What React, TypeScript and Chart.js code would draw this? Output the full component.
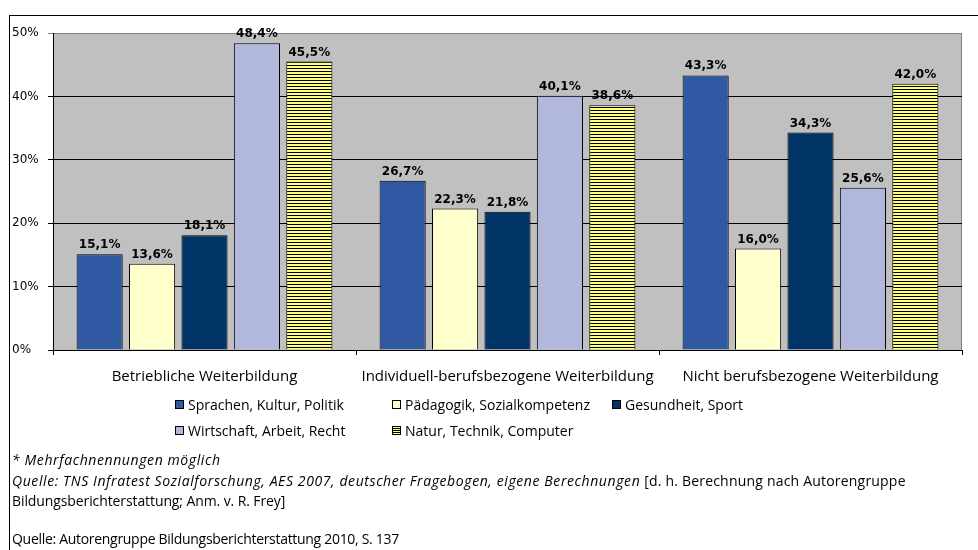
import React, { useEffect, useRef } from "react";
import { Chart, registerables } from "chart.js";

Chart.register(...registerables);

const categories = [
  "Betriebliche Weiterbildung",
  "Individuell-berufsbezogene Weiterbildung",
  "Nicht berufsbezogene Weiterbildung",
];
const seriesNames = [
  "Sprachen, Kultur, Politik",
  "Pädagogik, Sozialkompetenz",
  "Gesundheit, Sport",
  "Wirtschaft, Arbeit, Recht",
  "Natur, Technik, Computer",
];
const sprachen = [15.1, 26.7, 43.3];
const paedagogik = [13.6, 22.3, 16.0];
const gesundheit = [18.1, 21.8, 34.3];
const wirtschaft = [48.4, 40.1, 25.6];
const natur = [45.5, 38.6, 42.0];
const yMax = 50;
const yStep = 10;

const colors = ["#2F5AA3", "#FFFFCC", "#003366", "#B2B8DB", "#FFFF80"];
const TEXT_FONT = "'Open Sans', Lato, sans-serif";

function makeStripePattern(ctx: CanvasRenderingContext2D) {
  const c = document.createElement("canvas");
  c.width = 4;
  c.height = 3;
  const p = c.getContext("2d")!;
  p.fillStyle = "#FFFF80";
  p.fillRect(0, 0, 4, 3);
  p.fillStyle = "#000000";
  p.fillRect(0, 2, 4, 1);
  return ctx.createPattern(c, "repeat")!;
}

const fmt = (v: number) => v.toFixed(1).replace(".", ",") + "%";

export default function App() {
  const ref = useRef<HTMLCanvasElement | null>(null);

  useEffect(() => {
    const canvas = ref.current!;
    const ctx = canvas.getContext("2d")!;
    const stripes = makeStripePattern(ctx);
    const values = [sprachen, paedagogik, gesundheit, wirtschaft, natur];

    const plotBg = {
      id: "plotBg",
      beforeDraw(chart: any) {
        const { ctx, chartArea: a } = chart;
        ctx.save();
        ctx.fillStyle = "#C0C0C0";
        ctx.fillRect(a.left, a.top, a.right - a.left, a.bottom - a.top);
        ctx.strokeStyle = "#808080";
        ctx.lineWidth = 1;
        ctx.strokeRect(a.left + 0.5, a.top + 0.5, a.right - a.left - 1, a.bottom - a.top);
        ctx.restore();
      },
    };

    const valueLabels = {
      id: "valueLabels",
      afterDatasetsDraw(chart: any) {
        const { ctx } = chart;
        ctx.save();
        ctx.font = "bold 12px 'DejaVu Sans', Verdana, sans-serif";
        ctx.fillStyle = "#000";
        ctx.textAlign = "center";
        ctx.textBaseline = "alphabetic";
        chart.data.datasets.forEach((ds: any, i: number) => {
          const meta = chart.getDatasetMeta(i);
          meta.data.forEach((bar: any, j: number) => {
            ctx.fillText(fmt(ds.data[j]), bar.x, bar.y - 6);
          });
        });
        ctx.restore();
      },
    };

    const chart = new Chart(ctx, {
      type: "bar",
      data: {
        labels: categories,
        datasets: seriesNames.map((name, i) => ({
          label: name,
          data: values[i],
          backgroundColor: i === 4 ? (stripes as any) : colors[i],
          borderColor: "#000",
          borderWidth: 1,
          categoryPercentage: 0.865,
          barPercentage: 0.88,
        })),
      },
      options: {
        responsive: false,
        animation: false,
        events: [],
        layout: { padding: { left: 12, top: 33, right: 16, bottom: 160 } },
        plugins: {
          legend: { display: false },
          tooltip: { enabled: false },
          title: { display: false },
        },
        scales: {
          x: {
            afterFit: (s: any) => {
              s.height = 40;
            },
            grid: {
              drawOnChartArea: false,
              drawTicks: true,
              tickLength: 5,
              color: "#000",
              offset: true,
            },
            border: { display: true, color: "#000", width: 1 },
            ticks: {
              color: "#000",
              padding: 13,
              maxRotation: 0,
              autoSkip: false,
              font: { family: TEXT_FONT, size: 15 },
            },
          },
          y: {
            min: 0,
            max: yMax,
            afterFit: (s: any) => {
              s.width = 41;
            },
            grid: {
              color: (c: any) => (c.tick && c.tick.value === yMax ? "#808080" : "#000"),
              tickLength: 5,
              drawTicks: true,
            },
            border: { display: true, color: "#000", width: 1 },
            ticks: {
              stepSize: yStep,
              crossAlign: "far",
              padding: 4,
              color: "#000",
              font: { family: "'DejaVu Sans', Verdana, sans-serif", size: 12 },
              callback: (v: any) => v + "%",
            },
          },
        },
      },
      plugins: [plotBg, valueLabels],
    });
    return () => chart.destroy();
  }, []);

  const legendItem = (i: number, left: number, top: number) => (
    <div
      key={i}
      style={{
        position: "absolute",
        left,
        top,
        display: "flex",
        alignItems: "center",
        whiteSpace: "nowrap",
        height: 20,
        letterSpacing: "0px",
      }}
    >
      <span
        style={{
          display: "inline-block",
          width: 7,
          height: 7,
          border: "1px solid #000",
          background: i === 4 ? "repeating-linear-gradient(#FFFF80 0px, #FFFF80 1px, #000 1px, #000 2px)" : colors[i],
          marginRight: 4,
        }}
      />
      <span>{seriesNames[i]}</span>
    </div>
  );

  return (
    <div
      style={{
        position: "absolute",
        left: 0,
        top: 0,
        width: 978,
        height: 550,
        overflow: "hidden",
        background: "#fff",
        fontFamily: TEXT_FONT,
        fontSize: 14,
        color: "#000",
      }}
    >
      <div
        style={{
          position: "absolute",
          left: 9,
          top: 15,
          width: 1000,
          height: 600,
          border: "1px solid #000",
        }}
      />
      <canvas ref={ref} width={978} height={550} style={{ position: "absolute", left: 0, top: 0 }} />
      {legendItem(0, 175, 394)}
      {legendItem(1, 392, 394)}
      {legendItem(2, 612, 394)}
      {legendItem(3, 175, 420)}
      {legendItem(4, 392, 420)}
      <div style={{ position: "absolute", left: 12, top: 450, lineHeight: "20.5px", whiteSpace: "nowrap", letterSpacing: "0.2px" }}>
        <div>
          <i style={{ letterSpacing: "0.6px" }}>* Mehrfachnennungen möglich</i>
        </div>
        <div>
          <i style={{ letterSpacing: "0.6px" }}>
            Quelle: TNS Infratest Sozialforschung, AES 2007, deutscher Fragebogen, eigene Berechnungen
          </i>{" "}
          [d. h. Berechnung nach Autorengruppe
        </div>
        <div style={{ letterSpacing: "-0.1px" }}>Bildungsberichterstattung; Anm. v. R. Frey]</div>
      </div>
      <div style={{ position: "absolute", left: 12, top: 529, lineHeight: "20px", whiteSpace: "nowrap", letterSpacing: "-0.3px" }}>
        Quelle: Autorengruppe Bildungsberichterstattung 2010, S. 137
      </div>
    </div>
  );
}
